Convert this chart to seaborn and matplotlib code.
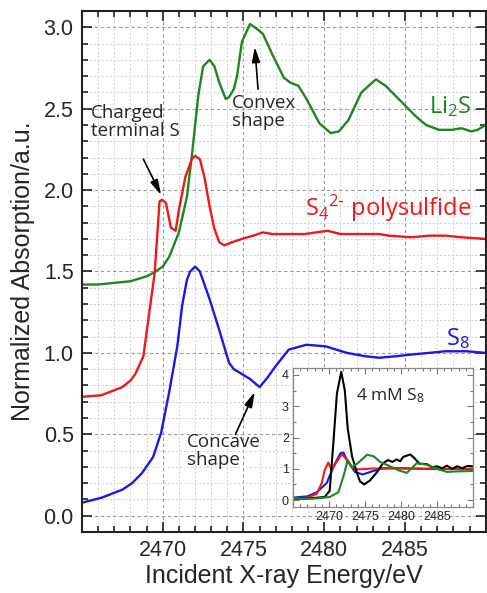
import numpy as np
import pandas as pd
import seaborn as sns
import matplotlib.pyplot as plt
from matplotlib.ticker import MultipleLocator

# main panel: normalized XAS spectra (offset)
li2s_e = [2465.0, 2466.0, 2467.0, 2468.0, 2469.0, 2469.4, 2470.0, 2470.4, 2471.0, 2471.5,
          2471.8, 2472.2, 2472.5, 2472.9, 2473.2, 2473.5, 2473.9, 2474.1, 2474.4, 2474.6,
          2474.9, 2475.4, 2475.7, 2476.2, 2476.8, 2477.5, 2477.9, 2478.4, 2478.9, 2479.7,
          2480.4, 2480.9, 2481.5, 2482.3, 2483.2, 2483.8, 2484.4, 2485.0, 2485.7, 2486.3,
          2487.1, 2487.9, 2488.5, 2489.1, 2489.5, 2490.0]
li2s_y = [1.42, 1.42, 1.43, 1.44, 1.47, 1.49, 1.53, 1.59, 1.74, 1.96,
          2.21, 2.58, 2.76, 2.80, 2.76, 2.66, 2.56, 2.57, 2.62, 2.70,
          2.91, 3.02, 3.00, 2.96, 2.83, 2.69, 2.66, 2.64, 2.56, 2.41,
          2.35, 2.36, 2.43, 2.60, 2.68, 2.64, 2.58, 2.52, 2.45, 2.40,
          2.37, 2.37, 2.38, 2.36, 2.37, 2.40]

s4_e = [2465.0, 2466.2, 2467.5, 2468.0, 2468.3, 2468.8, 2469.1, 2469.5, 2469.8, 2469.95,
        2470.2, 2470.5, 2470.8, 2471.0, 2471.4, 2471.8, 2472.0, 2472.3, 2472.6, 2472.9,
        2473.2, 2473.5, 2473.8, 2474.3, 2474.9, 2475.6, 2476.2, 2476.8, 2477.8, 2478.8,
        2480.2, 2481.0, 2482.0, 2483.4, 2484.0, 2485.4, 2486.5, 2487.5, 2488.5, 2490.0]
s4_y = [0.73, 0.74, 0.79, 0.83, 0.87, 0.98, 1.20, 1.49, 1.93, 1.94,
        1.92, 1.77, 1.75, 1.88, 2.08, 2.19, 2.21, 2.19, 2.07, 1.90,
        1.76, 1.68, 1.66, 1.68, 1.70, 1.72, 1.74, 1.73, 1.73, 1.73,
        1.75, 1.73, 1.73, 1.73, 1.72, 1.71, 1.72, 1.72, 1.71, 1.70]

s8_e = [2465.0, 2466.2, 2467.5, 2468.1, 2468.7, 2469.4, 2469.9, 2470.4, 2470.9, 2471.2,
        2471.5, 2471.7, 2472.0, 2472.3, 2472.9, 2473.5, 2474.1, 2474.4, 2475.4, 2476.0,
        2476.5, 2477.0, 2477.8, 2478.9, 2480.1, 2481.4, 2482.5, 2483.4, 2484.5, 2485.4,
        2486.5, 2487.5, 2488.8, 2490.0]
s8_y = [0.08, 0.11, 0.16, 0.20, 0.26, 0.36, 0.51, 0.76, 1.04, 1.29,
        1.45, 1.50, 1.53, 1.50, 1.33, 1.14, 0.94, 0.90, 0.84, 0.79,
        0.85, 0.92, 1.02, 1.05, 1.04, 1.00, 0.98, 0.97, 0.98, 0.99,
        1.00, 1.01, 1.01, 1.00]

# inset: 4 mM S8 compared with the three spectra (no offset)
blk_e = [2465.0, 2467.0, 2469.4, 2470.1, 2470.6, 2471.1, 2471.7, 2472.2, 2472.6, 2473.2,
         2473.9, 2474.3, 2474.9, 2475.7, 2476.7, 2477.5, 2478.2, 2478.8, 2479.4, 2479.9,
         2480.3, 2481.3, 2481.9, 2482.6, 2483.6, 2484.3, 2485.0, 2485.7, 2486.4, 2487.1,
         2487.8, 2488.5, 2489.2, 2490.0]
blk_y = [0.03, 0.05, 0.10, 0.30, 1.80, 3.40, 4.10, 3.50, 2.30, 1.40,
         0.86, 0.60, 0.50, 0.63, 0.90, 1.18, 1.28, 1.22, 1.30, 1.24,
         1.38, 1.46, 1.33, 1.16, 1.15, 1.05, 1.08, 1.02, 1.10, 1.00,
         1.08, 1.02, 1.09, 1.08]

red_e = [2465.0, 2467.0, 2468.3, 2469.0, 2469.4, 2469.9, 2470.4, 2470.9, 2471.8, 2472.5,
         2473.2, 2474.0, 2476.0, 2480.0, 2485.0, 2490.0]
red_y = [0.05, 0.08, 0.20, 0.55, 0.95, 1.20, 0.95, 1.17, 1.47, 1.28,
         1.05, 0.98, 1.01, 1.01, 1.00, 0.99]

blu_e = [2465.0, 2467.0, 2468.3, 2469.7, 2470.6, 2471.6, 2472.0, 2472.5, 2473.6, 2474.7,
         2476.0, 2477.5, 2480.0, 2485.0, 2490.0]
blu_y = [0.08, 0.12, 0.25, 0.55, 1.06, 1.50, 1.52, 1.28, 0.90, 0.82,
         0.92, 1.02, 1.02, 0.99, 1.00]

grn_e = [2465.0, 2468.0, 2470.1, 2471.3, 2472.0, 2472.6, 2473.2, 2474.0, 2475.3, 2476.2,
         2477.1, 2478.7, 2479.7, 2480.8, 2482.2, 2483.6, 2485.0, 2486.4, 2488.0, 2490.0]
grn_y = [0.03, 0.05, 0.10, 0.25, 0.75, 1.28, 1.05, 1.18, 1.45, 1.40,
         1.22, 1.06, 0.95, 0.87, 1.18, 1.13, 1.00, 0.90, 0.92, 0.93]

GREEN = '#1c881c'
RED = '#f01818'
BLUE = '#1818e8'

sns.set_style('ticks')
plt.rcParams['font.family'] = ['Liberation Sans', 'DejaVu Sans']
plt.rcParams['mathtext.default'] = 'regular'
ANN = ['Open Sans', 'DejaVu Sans']

fig = plt.figure(figsize=(4.87, 5.93), dpi=100)
ax = fig.add_axes([0.1684, 0.1029, 0.829, 0.8786])

kw = dict(sort=False, estimator=None, lw=1.7, ax=ax, legend=False)
sns.lineplot(x=li2s_e, y=li2s_y, color=GREEN, **kw)
sns.lineplot(x=s4_e, y=s4_y, color=RED, **kw)
sns.lineplot(x=s8_e, y=s8_y, color=BLUE, **kw)

ax.set_xlim(2465, 2490)
ax.set_ylim(-0.1, 3.1)
ax.set_xticks([2470, 2475, 2480, 2485])
ax.set_yticks(np.arange(0, 3.01, 0.5))
ax.set_yticklabels([f'{v:.1f}' for v in np.arange(0, 3.01, 0.5)])
ax.xaxis.set_minor_locator(MultipleLocator(1))
ax.yaxis.set_minor_locator(MultipleLocator(0.1))
ax.grid(which='major', color='#9a9a9a', linestyle=(0, (3, 2.5)), lw=0.8)
ax.grid(which='minor', color='#d0d0d0', linestyle=(0, (2, 2)), lw=0.7)
ax.set_axisbelow(True)
ax.tick_params(which='both', direction='in', top=True, right=True, width=1.2, color='#222222')
ax.tick_params(which='major', length=7, labelsize=15.5, pad=6)
ax.tick_params(which='minor', length=4)
for s in ax.spines.values():
    s.set_linewidth(1.5)
    s.set_color('#222222')
ax.set_xlabel('Incident X-ray Energy/eV', fontsize=18, labelpad=2)
ax.set_ylabel('Normalized Absorption/a.u.', fontsize=18, labelpad=6)

# annotations
arr = dict(arrowstyle='-|>,head_width=0.2,head_length=0.75', color='black', lw=1.2,
           shrinkA=0, shrinkB=0, mutation_scale=12)
ax.text(2465.55, 2.53, 'Charged\nterminal S', ha='left', va='top', fontsize=13.5,
        family=ANN, linespacing=1.0)
ax.annotate('', xy=(2469.9, 1.97), xytext=(2468.8, 2.19), arrowprops=arr)
ax.text(2474.3, 2.59, 'Convex\nshape', ha='left', va='top', fontsize=13.5,
        family=ANN, linespacing=1.0)
ax.annotate('', xy=(2475.7, 2.88), xytext=(2475.9, 2.62), arrowprops=arr)
ax.text(2471.5, 0.51, 'Concave\nshape', ha='left', va='top', fontsize=13.5,
        family=ANN, linespacing=1.0)
ax.annotate('', xy=(2475.7, 0.76), xytext=(2474.5, 0.50), arrowprops=arr)

ax.text(2489.1, 2.51, 'Li$_2$S', ha='right', va='center', color=GREEN, fontsize=17, family=ANN)
ax.text(2489.1, 1.89, r'S$_4$$^{2\text{-}}$ polysulfide', ha='right', va='center', color=RED,
        fontsize=17, family=ANN)
ax.text(2489.0, 1.09, 'S$_8$', ha='right', va='center', color=BLUE, fontsize=17, family=ANN)

# inset
ins = fig.add_axes([0.6016, 0.145, 0.3696, 0.2344])
ins.set_facecolor('white')
ikw = dict(sort=False, estimator=None, lw=1.5, ax=ins, legend=False)
sns.lineplot(x=blu_e, y=blu_y, color=BLUE, **ikw)
sns.lineplot(x=red_e, y=red_y, color=RED, **ikw)
sns.lineplot(x=blk_e, y=blk_y, color='black', **ikw)
sns.lineplot(x=grn_e, y=grn_y, color=GREEN, **ikw)
ins.set_xlim(2465, 2490)
ins.set_ylim(-0.22, 4.22)
ins.set_xticks([2470, 2475, 2480, 2485])
ins.set_yticks([0, 1, 2, 3, 4])
ins.xaxis.set_minor_locator(MultipleLocator(1))
ins.yaxis.set_minor_locator(MultipleLocator(0.5))
ins.tick_params(which='both', direction='in', top=True, right=True, color='#777777', width=0.8)
ins.tick_params(which='major', length=4, labelsize=9, pad=3)
ins.tick_params(which='minor', length=2)
for s in ins.spines.values():
    s.set_linewidth(0.9)
    s.set_color('#888888')
ins.text(2473.8, 3.35, '4 mM S$_8$', ha='left', va='center', fontsize=12.5, family=ANN)

fig.savefig('out.png', dpi=100)
